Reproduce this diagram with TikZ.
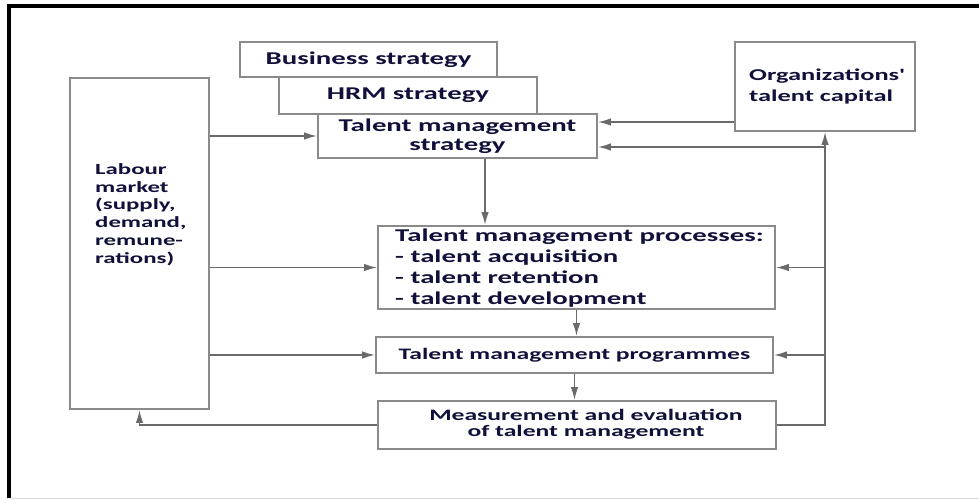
\documentclass[tikz,border=0pt]{standalone}
\usepackage{fontspec}
\setmainfont{Carlito}[FakeStretch=1.6]
\usetikzlibrary{arrows.meta}
\definecolor{ink}{HTML}{10103A}
\definecolor{boxgray}{HTML}{8A8A8A}
\definecolor{linegray}{HTML}{6A6A6A}
\newcommand{\fbig}{\bfseries\fontsize{18}{20.7}\selectfont}
\newcommand{\fmid}{\bfseries\fontsize{16.5}{21}\selectfont}
\newcommand{\fsmall}{\bfseries\fontsize{15.5}{17.7}\selectfont}
\tikzset{
  box/.style={draw=boxgray, line width=1.8pt, inner sep=0pt, text=ink, align=center},
  txt/.style={inner sep=0pt, text=ink, align=left},
  arr/.style={draw=linegray, line width=1.6pt, -{Latex[length=13pt,width=7.5pt]}},
}
\begin{document}
\begin{tikzpicture}[x=1pt,y=-1pt]
                \useasboundingbox (0,0) rectangle (979,500);
                % frame
                \draw [line width=4pt] (9,498) -- (9,6) -- (979,6);
                \draw [black!15, line width=1pt] (11,498.5) -- (979,498.5);
                % strategy boxes
                \node [box, minimum width=257pt, minimum height=35pt, font=\fbig] (bus) at (368.5,59.5) {Business strategy};
                \node [box, minimum width=258pt, minimum height=37pt, font=\fbig] (hrm) at (408,95.5) {HRM strategy};
                \node [box, minimum width=279pt, minimum height=44pt, font=\bfseries\fontsize{18}{19}\selectfont] (tms) at (457.5,136) {Talent management\\strategy};
                % side boxes
                \node [box, minimum width=139pt, minimum height=331pt] (lab) at (139.5,243.5) {};
                \node [txt, anchor=base west, font=\fsmall] (labt) at (95,263) {Labour\\market\\(supply,\\demand,\\remune-\\rations)};
                \node [box, minimum width=180pt, minimum height=89pt] (otc) at (825,86.5) {};
                \node [txt, anchor=base west, font=\fmid] (otct) at (749,102) {Organizations\textquotesingle\\talent capital};
                % process boxes
                \node [box, minimum width=397pt, minimum height=83pt] (proc) at (576.5,267.5) {};
                \node [txt, anchor=base west, font=\fbig] (proct) at (395,304) {Talent management processes:\\- talent acquisition\\- talent retention\\- talent development};
                \node [box, minimum width=397pt, minimum height=36pt, font=\bfseries\fontsize{16}{18}\selectfont] (prog) at (574.5,355) {Talent management programmes};
                \node [box, minimum width=398pt, minimum height=48pt] (meas) at (577,425) {};
                \node [txt, align=center, font=\bfseries\fontsize{16}{15.5}\selectfont] (meast) at (586,424) {Measurement and evaluation\\of talent management};
                % connectors
                \coordinate (tmsa) at ([yshift=14pt]tms.east);
                \coordinate (tmsb) at ([yshift=-11pt]tms.east);
                \coordinate (tmsd) at ([xshift=27.5pt]tms.south);
                \draw [arr] (lab.east |- tms.west) -- (tms.west);
                \draw [arr] (lab.east |- proc.west) -- (proc.west);
                \draw [arr] (lab.east |- prog.west) -- (prog.west);
                \draw [arr] (otc.west |- tmsa) -- (tmsa);
                \draw [arr] (tmsd) -- (tmsd |- proc.north);
                \draw [arr] (proc.south) -- (proc.south |- prog.north);
                \draw [arr] (prog.south) -- (prog.south |- meas.north);
                \draw [arr] (meas.west) -| (lab.south);
                \draw [arr] (meas.east) -| (otc.south);
                \draw [arr] (otc.south |- tmsb) -- (tmsb);
                \draw [arr] (otc.south |- proc.east) -- (proc.east);
                \draw [arr] (otc.south |- prog.east) -- (prog.east);
\end{tikzpicture}
\end{document}
